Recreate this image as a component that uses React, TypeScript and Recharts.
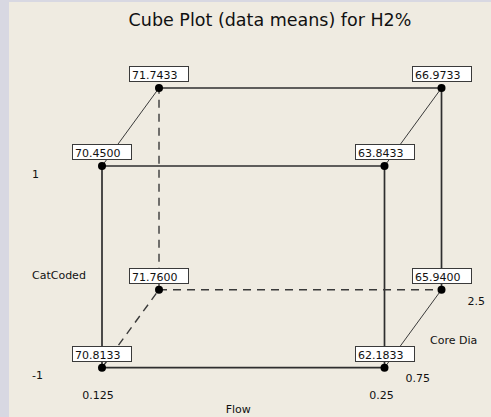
import React from 'react';
import { ComposedChart, Line, Scatter, XAxis, YAxis, ReferenceDot } from 'recharts';

// factor levels
const flowLevels = [0.125, 0.25];
const catLevels = [-1, 1];
const coreLevels = [0.75, 2.5];

// data means, indexed [flow low, flow high]
const meansCoreLowCatLow = [70.8133, 62.1833];
const meansCoreLowCatHigh = [70.45, 63.8433];
const meansCoreHighCatLow = [71.76, 65.94];
const meansCoreHighCatHigh = [71.7433, 66.9733];

const title = 'Cube Plot (data means) for H2%';
const factorNames = { flow: 'Flow', cat: 'CatCoded', core: 'Core Dia' };

// oblique projection of the cube (in units of one flow step)
const DEPTH_X = 0.2018;
const DEPTH_Y = 0.3867;

type Corner = { x: number; y: number; mean: number; fi: number; ki: number; ci: number };

const meansTable = [
  [meansCoreLowCatLow, meansCoreLowCatHigh],
  [meansCoreHighCatLow, meansCoreHighCatHigh],
];

const corners: Corner[] = [];
coreLevels.forEach((_, ci) =>
  catLevels.forEach((_, ki) =>
    flowLevels.forEach((_, fi) => {
      corners.push({
        x: fi + ci * DEPTH_X,
        y: ki + ci * DEPTH_Y,
        mean: meansTable[ci][ki][fi],
        fi,
        ki,
        ci,
      });
    })
  )
);

const at = (fi: number, ki: number, ci: number) =>
  corners.find((c) => c.fi === fi && c.ki === ki && c.ci === ci)!;

// edges: [from, to, style]
type Edge = { a: Corner; b: Corner; kind: 'front' | 'depth' | 'hidden' };
const edges: Edge[] = [
  { a: at(0, 0, 0), b: at(1, 0, 0), kind: 'front' },
  { a: at(0, 1, 0), b: at(1, 1, 0), kind: 'front' },
  { a: at(0, 0, 0), b: at(0, 1, 0), kind: 'front' },
  { a: at(1, 0, 0), b: at(1, 1, 0), kind: 'front' },
  { a: at(0, 1, 1), b: at(1, 1, 1), kind: 'front' },
  { a: at(1, 0, 1), b: at(1, 1, 1), kind: 'front' },
  { a: at(0, 1, 0), b: at(0, 1, 1), kind: 'depth' },
  { a: at(1, 1, 0), b: at(1, 1, 1), kind: 'depth' },
  { a: at(1, 0, 0), b: at(1, 0, 1), kind: 'depth' },
  { a: at(0, 0, 1), b: at(0, 1, 1), kind: 'hidden' },
  { a: at(0, 0, 1), b: at(1, 0, 1), kind: 'hidden' },
  { a: at(0, 0, 0), b: at(0, 0, 1), kind: 'hidden' },
];

const FONT = '"DejaVu Sans", Verdana, sans-serif';

const CornerShape = (props: any) => {
  const { cx, cy, payload } = props;
  const x0 = Math.round(cx);
  const y0 = Math.round(cy);
  return (
    <g>
      <rect x={x0 - 29.5} y={y0 - 21.5} width={59} height={15} fill="#ffffff" stroke="#3a3a3a" strokeWidth={1} />
      <text x={x0 - 27} y={y0 - 9} fontSize={11} fontFamily={FONT} fill="#111">
        {payload.mean.toFixed(4)}
      </text>
      <circle cx={cx} cy={cy} r={4} fill="#000" />
    </g>
  );
};

const textAt = (label: string, dx: number, dy: number, anchor: 'start' | 'middle' = 'start') =>
  (props: any) => (
    <text
      x={props.cx + dx}
      y={props.cy + dy}
      fontSize={11}
      fontFamily={FONT}
      fill="#111"
      textAnchor={anchor}
    >
      {label}
    </text>
  );

export default function App() {
  const W = 491;
  const H = 417;
  const edgeStyle = {
    front: { stroke: '#2e2e2e', strokeWidth: 1.7, strokeDasharray: undefined },
    depth: { stroke: '#3a3a3a', strokeWidth: 1, strokeDasharray: undefined },
    hidden: { stroke: '#3a3a3a', strokeWidth: 1.4, strokeDasharray: '8 6' },
  };
  return (
    <div style={{ position: 'relative', width: W, height: H, background: '#d8d8e2' }}>
      <style>{'body{margin:0}'}</style>
      <div
        style={{ position: 'absolute', left: 9, top: 2, right: 0, bottom: 0, background: '#efebe1' }}
      />
      <div style={{ position: 'absolute', left: 0, top: 0 }}>
        <ComposedChart width={W} height={H} margin={{ top: 0, right: 0, bottom: 0, left: 0 }}>
          <XAxis type="number" dataKey="x" domain={[-0.36106, 1.37699]} hide allowDataOverflow />
          <YAxis type="number" dataKey="y" domain={[-0.24442, 1.823]} hide allowDataOverflow />
          <text x={270} y={26} textAnchor="middle" fontSize={17.5} fontFamily={FONT} fill="#111">
            {title}
          </text>
          {edges.map((e, i) => (
            <Line
              key={i}
              data={[e.a, e.b]}
              dataKey="y"
              type="linear"
              dot={false}
              activeDot={false}
              isAnimationActive={false}
              {...edgeStyle[e.kind]}
            />
          ))}
          <Scatter data={corners} dataKey="y" shape={CornerShape} isAnimationActive={false} />

          {/* CatCoded levels */}
          <ReferenceDot x={0} y={1} r={0} shape={textAt(String(catLevels[1]), -70, 12)} />
          <ReferenceDot x={0} y={0} r={0} shape={textAt(String(catLevels[0]), -70, 11)} />
          <ReferenceDot x={0} y={0.5} r={0} shape={textAt(factorNames.cat, -70, 12)} />

          {/* Flow levels */}
          <ReferenceDot x={0} y={0} r={0} shape={textAt(String(flowLevels[0]), -4, 31, 'middle')} />
          <ReferenceDot x={1} y={0} r={0} shape={textAt(String(flowLevels[1]), -3, 31, 'middle')} />
          <ReferenceDot x={0.5} y={0} r={0} shape={textAt(factorNames.flow, -5, 45, 'middle')} />

          {/* Core Dia levels */}
          <ReferenceDot x={1} y={0} r={0} shape={textAt(String(coreLevels[0]), 21, 14)} />
          <ReferenceDot x={1 + DEPTH_X} y={DEPTH_Y} r={0} shape={textAt(String(coreLevels[1]), 26, 15)} />
          <ReferenceDot
            x={1 + DEPTH_X / 2}
            y={DEPTH_Y / 2}
            r={0}
            shape={textAt(factorNames.core, 17, 15)}
          />
        </ComposedChart>
      </div>
    </div>
  );
}
